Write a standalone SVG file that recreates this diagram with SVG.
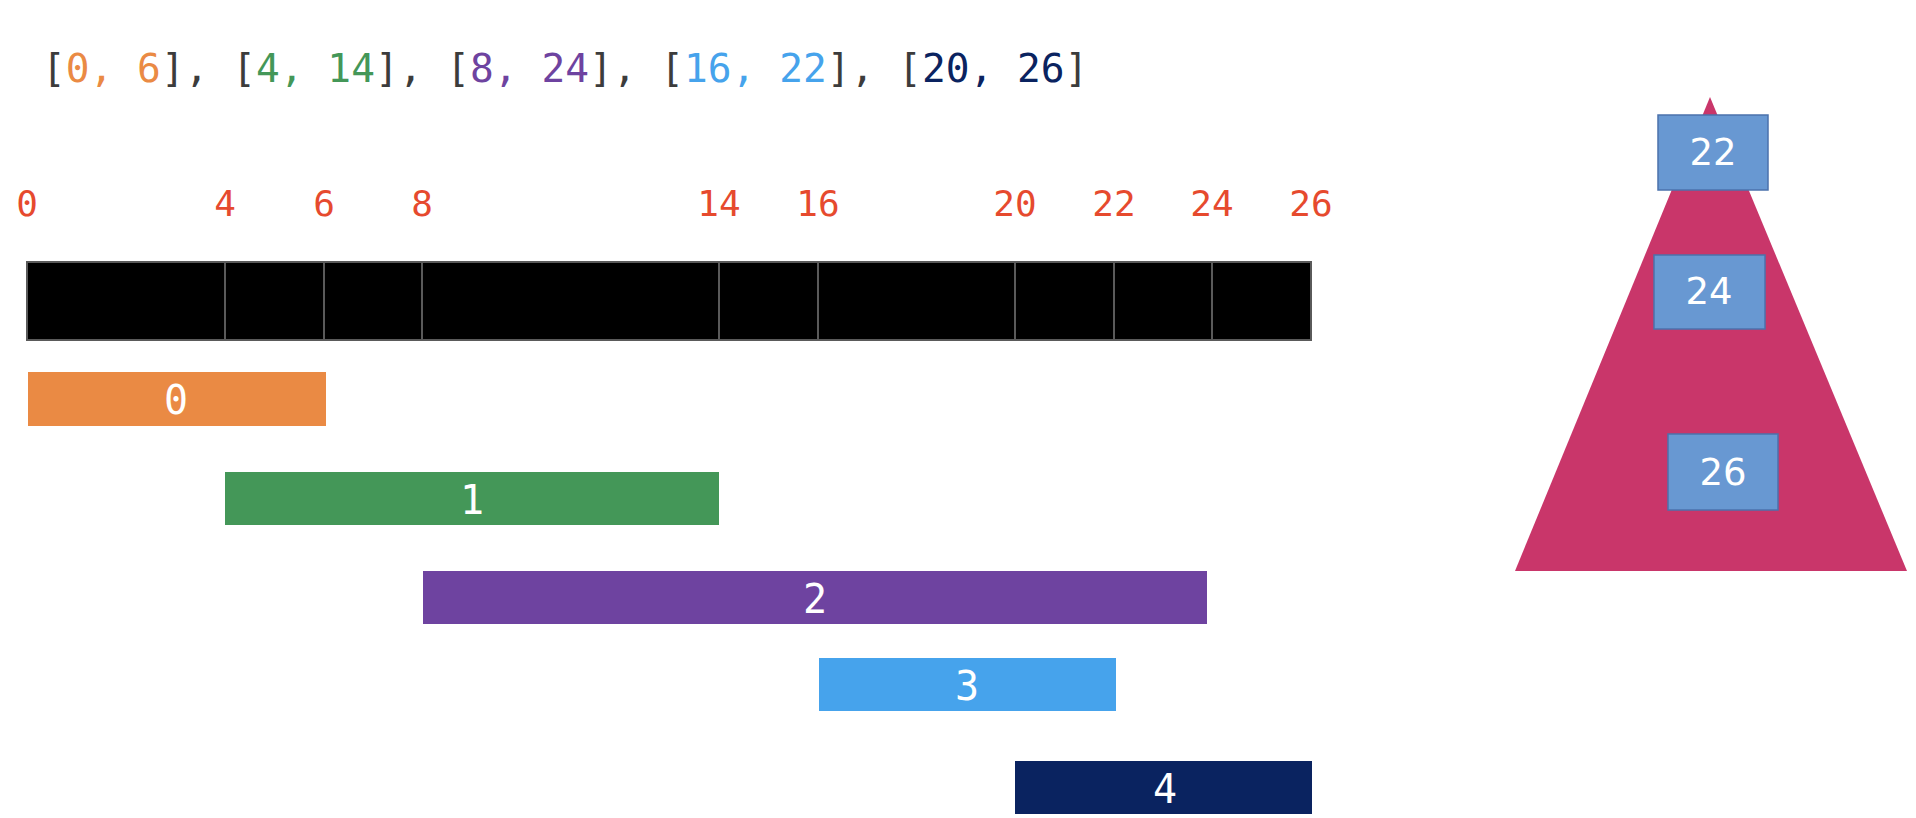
<svg xmlns="http://www.w3.org/2000/svg" width="1916" height="818" viewBox="0 0 1916 818">
<style>
.mono{font-family:"DejaVu Sans Mono","Liberation Mono",monospace}
.title{font-size:39.5px;fill:#3c3c3c}
.tick{font-size:36px;fill:#e64a2e;text-anchor:middle}
.cell{fill:#000;stroke:#5a5a5a;stroke-width:2}
.bar-label{font-size:40px;fill:#fff;text-anchor:middle}
.heap-box{fill:#6898d2;stroke:#4b72ac;stroke-width:1.5}
.heap-label{font-family:"DejaVu Sans","Noto Sans",sans-serif;font-size:37px;fill:#fff;text-anchor:middle}
</style>
<rect width="1916" height="818" fill="#fff"/>
<g id="title">
<text class="mono title" x="42" y="82">[<tspan fill="#ea8a44">0, 6</tspan>], [<tspan fill="#449758">4, 14</tspan>], [<tspan fill="#6e43a0">8, 24</tspan>], [<tspan fill="#46a3ec">16, 22</tspan>], [<tspan fill="#0a2360">20, 26</tspan>]</text>
</g>
<g id="ticks" class="mono">
<text class="tick" x="27" y="216">0</text>
<text class="tick" x="225" y="216">4</text>
<text class="tick" x="324" y="216">6</text>
<text class="tick" x="422" y="216">8</text>
<text class="tick" x="719" y="216">14</text>
<text class="tick" x="818" y="216">16</text>
<text class="tick" x="1015" y="216">20</text>
<text class="tick" x="1114" y="216">22</text>
<text class="tick" x="1212" y="216">24</text>
<text class="tick" x="1311" y="216">26</text>
</g>
<g id="number-line">
<rect class="cell" x="27" y="262" width="198" height="78"/>
<rect class="cell" x="225" y="262" width="99" height="78"/>
<rect class="cell" x="324" y="262" width="98" height="78"/>
<rect class="cell" x="422" y="262" width="297" height="78"/>
<rect class="cell" x="719" y="262" width="99" height="78"/>
<rect class="cell" x="818" y="262" width="197" height="78"/>
<rect class="cell" x="1015" y="262" width="99" height="78"/>
<rect class="cell" x="1114" y="262" width="98" height="78"/>
<rect class="cell" x="1212" y="262" width="99" height="78"/>
</g>
<g id="interval-0">
<rect x="28" y="372" width="298" height="54" fill="#ea8a44"/>
<text class="mono bar-label" x="176" y="414">0</text>
</g>
<g id="interval-1">
<rect x="225" y="472" width="494" height="53" fill="#449758"/>
<text class="mono bar-label" x="472" y="514">1</text>
</g>
<g id="interval-2">
<rect x="423" y="571" width="784" height="53" fill="#6e43a0"/>
<text class="mono bar-label" x="815" y="613">2</text>
</g>
<g id="interval-3">
<rect x="819" y="658" width="297" height="53" fill="#46a3ec"/>
<text class="mono bar-label" x="967" y="700">3</text>
</g>
<g id="interval-4">
<rect x="1015" y="761" width="297" height="53" fill="#0a2360"/>
<text class="mono bar-label" x="1165" y="803">4</text>
</g>
<g id="heap">
<polygon points="1710,97 1515,571 1907,571" fill="#c9366a"/>
</g>
<g id="heap-22">
<rect class="heap-box" x="1658" y="115" width="110" height="75"/>
<text class="heap-label" x="1713" y="165">22</text>
</g>
<g id="heap-24">
<rect class="heap-box" x="1654" y="255" width="111" height="74"/>
<text class="heap-label" x="1709" y="304">24</text>
</g>
<g id="heap-26">
<rect class="heap-box" x="1668" y="434" width="110" height="76"/>
<text class="heap-label" x="1723" y="485">26</text>
</g>
<g id="connectors"/>
</svg>
